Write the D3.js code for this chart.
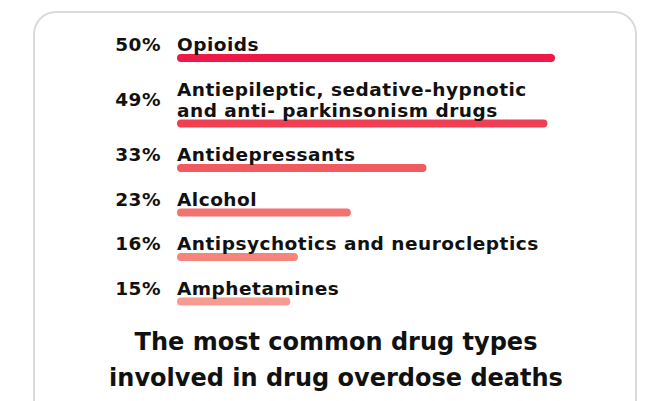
<!DOCTYPE html>
<html>
<head>
<meta charset="utf-8">
<script src="https://cdn.jsdelivr.net/npm/d3@7"></script>
<style>
  html, body { margin: 0; padding: 0; background: #ffffff; }
  svg { display: block; }
  text { font-family: "DejaVu Sans", "Open Sans", sans-serif; font-weight: bold; fill: #111111; }
</style>
</head>
<body>
<svg id="chart" width="652" height="401"></svg>
<script>
// Drug types and the share of overdose deaths each is involved in
const categories = [
  ["Opioids"],
  ["Antiepileptic, sedative-hypnotic", "and anti- parkinsonism drugs"],
  ["Antidepressants"],
  ["Alcohol"],
  ["Antipsychotics and neurocleptics"],
  ["Amphetamines"]
];
const values = [50, 49, 33, 23, 16, 15];
const barColors = ["#ee1946", "#f03f52", "#f15b60", "#f3726f", "#f5857c", "#f69b91"];
const titleLines = ["The most common drug types", "involved in drug overdose deaths"];

const W = 652, H = 401;
const svg = d3.select("#chart");

// Card with rounded corners, running off the bottom edge
svg.append("rect")
  .attr("x", 34).attr("y", 12)
  .attr("width", 602).attr("height", 420)
  .attr("rx", 22).attr("ry", 22)
  .attr("fill", "#ffffff")
  .attr("stroke", "#dadada")
  .attr("stroke-width", 2);

const x = d3.scaleLinear().domain([0, 50]).range([177, 555]);

// Baseline positions for each row's label lines
const firstBaseline = 51, rowStep = 44.5, lineStep = 21;
const rows = [];
let prevLast = firstBaseline - rowStep;
categories.forEach((lines, i) => {
  const first = prevLast + rowStep;
  const baselines = lines.map((_, k) => first + k * lineStep);
  prevLast = baselines[baselines.length - 1];
  rows.push({ lines, baselines, value: values[i], color: barColors[i] });
});

const barH = 8;
const g = svg.append("g");

// Bars sit just under the last label line
g.selectAll("rect.bar")
  .data(rows)
  .join("rect")
  .attr("class", "bar")
  .attr("x", x(0))
  .attr("y", d => d.baselines[d.baselines.length - 1] + 3)
  .attr("width", d => x(d.value) - x(0))
  .attr("height", barH)
  .attr("rx", barH / 2).attr("ry", barH / 2)
  .attr("fill", d => d.color);

// Category labels
const lbl = g.selectAll("text.label")
  .data(rows)
  .join("text")
  .attr("class", "label")
  .attr("font-size", 18.5)
  .attr("letter-spacing", 0.5);
lbl.selectAll("tspan")
  .data(d => d.lines.map((t, k) => ({ t, y: d.baselines[k] })))
  .join("tspan")
  .attr("x", x(0))
  .attr("y", d => d.y)
  .text(d => d.t);

// Percentage values, right-aligned, centred on the label block
g.selectAll("text.pct")
  .data(rows)
  .join("text")
  .attr("class", "pct")
  .attr("font-size", 18.5)
  .attr("letter-spacing", 0.5)
  .attr("text-anchor", "end")
  .attr("x", 161)
  .attr("y", d => (d.baselines[0] + d.baselines[d.baselines.length - 1]) / 2)
  .text(d => d.value + "%");

// Title
svg.append("text")
  .attr("text-anchor", "middle")
  .attr("font-size", 24)
  .selectAll("tspan")
  .data(titleLines)
  .join("tspan")
  .attr("x", 336)
  .attr("y", (d, i) => 350 + i * 36)
  .text(d => d);
</script>
</body>
</html>
